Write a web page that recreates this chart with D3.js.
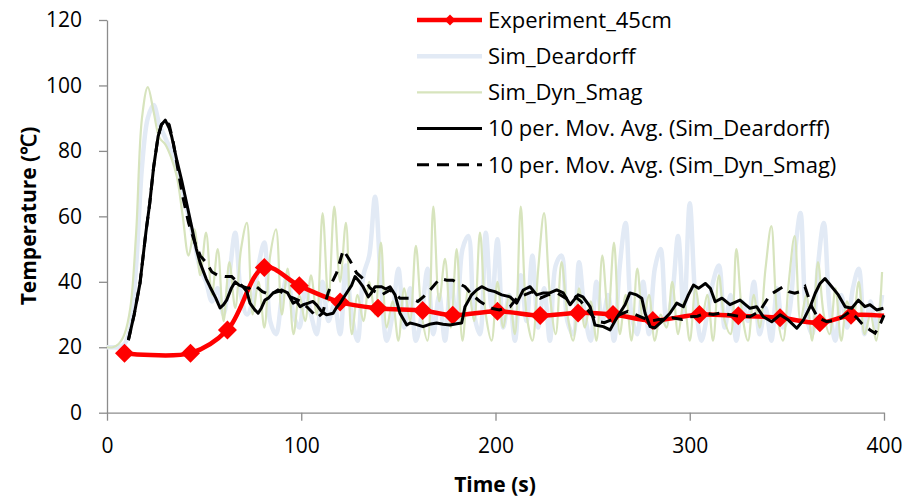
<!DOCTYPE html>
<html>
<head>
<meta charset="utf-8">
<script src="https://cdn.jsdelivr.net/npm/d3@7"></script>
<style>
	body { margin: 0; background: #fff; }
	text { font-family: "Open Sans", sans-serif; fill: #000; }
</style>
</head>
<body>
<div id="chart"></div>
<script>
// Experiment_45cm (red, markers)
const expTime = [9, 43, 62, 81, 99, 120, 139.5, 162.5, 178, 201, 223, 242.5, 260.5, 281, 305, 325, 346.5, 367, 383, 400];
const expTemp = [18.2, 18.2, 25.3, 44.4, 38.8, 33.8, 31.9, 31.2, 29.8, 31, 29.7, 30.5, 30, 28.2, 30, 29.6, 29, 27.5, 29.8, 29.6];

// raw simulation output, one sample every 3 s
const simTime = d3.range(0, 400, 3);
const simDeardorff = [
	20, 20, 20, 21, 26, 45, 75, 90, 94, 88, 84, 80, 75, 68, 60, 52, 44, 40, 34, 38,
	30, 42, 55, 36, 30, 34, 45, 52, 28, 24, 35, 42, 30, 26, 38, 30, 24, 40, 28, 33,
	24, 45, 30, 22, 42, 48, 66, 40, 22, 30, 44, 26, 38, 22, 30, 44, 24, 36, 22, 40,
	28, 50, 54, 30, 24, 55, 32, 53, 26, 36, 22, 42, 28, 48, 26, 38, 22, 45, 48, 28,
	24, 46, 30, 22, 40, 28, 36, 22, 45, 58, 30, 24, 40, 24, 44, 50, 28, 36, 54, 30,
	64, 34, 22, 30, 40, 45, 26, 36, 22, 34, 28, 40, 24, 32, 22, 38, 26, 30, 48, 61,
	30, 24, 45, 58, 32, 22, 36, 26, 38, 44, 24, 34, 26, 36
];
const simDynSmag = [
	20, 20, 21, 24, 32, 55, 90, 99.5, 92, 84, 82, 78, 72, 60, 48, 56, 42, 55, 36, 50,
	28, 46, 32, 50, 58, 30, 40, 26, 48, 56, 30, 44, 24, 36, 28, 42, 30, 61, 34, 63,
	40, 58, 24, 36, 28, 40, 30, 52, 26, 34, 22, 38, 28, 51, 30, 22, 63, 34, 47, 26,
	50, 22, 38, 28, 55, 30, 22, 40, 26, 36, 24, 63, 30, 22, 44, 61, 36, 24, 46, 30,
	22, 38, 26, 34, 22, 48, 30, 52, 24, 36, 22, 44, 28, 36, 22, 30, 26, 40, 24, 34,
	22, 38, 28, 36, 22, 42, 28, 24, 50, 30, 22, 36, 26, 44, 57, 30, 22, 40, 54, 28,
	36, 22, 46, 30, 24, 38, 22, 34, 28, 40, 24, 30, 22, 43
];

// 10 per. moving averages (trendlines)
const maDeardorffTime = [
	11, 14, 17, 20, 22, 24, 26.3, 28, 30, 32, 33.3, 36, 38.4, 41, 43.6, 46, 48, 51, 53, 56,
	58.2, 60, 61.6, 64, 66, 68, 70, 72, 73.6, 76, 77.8, 79.5, 81.3, 83, 85.5, 88, 90, 93, 95.8, 97.5,
	99.4, 101, 103.6, 106, 108, 110.5, 113, 116.4, 118, 120, 123.4, 126, 127.7, 130, 131.8, 134.5, 136, 138, 141.4, 143.5,
	145.7, 148.3, 150.8, 154.3, 156, 159, 162.7, 166, 169.7, 173, 176.6, 180, 182.6, 184.3, 187.7, 190.3, 192.9, 196.3, 199.7, 203.2,
	207.5, 210.9, 214.3, 217.8, 221.2, 224.7, 228, 231.5, 234.9, 238.4, 242.5, 245, 248.7, 251.2, 255.5, 259, 262.4, 266.7, 269.2, 272.7,
	275.3, 277, 279.6, 282, 286.4, 289.8, 293.3, 296.7, 299.3, 301.9, 304.5, 308, 310.6, 313.1, 316.6, 320.7, 325.9, 331, 334.4, 337.9,
	342.2, 346.5, 350.8, 355.1, 358.5, 362, 364.6, 367.1, 369.6, 373.1, 376.5, 380, 383.4, 386.8, 390.2, 392.8, 396.2, 399.7
];
const maDeardorffTemp = [
	22.2, 30, 39.6, 55, 64, 75, 84.4, 88, 89.4, 87, 84.4, 77, 71.1, 64, 56.8, 50, 45.7, 41, 38.5, 35,
	32, 33, 34.4, 38, 40, 39, 38.5, 37, 33.5, 31.5, 30.4, 32, 34.4, 35, 36.6, 37, 37.5, 36.6, 33.5, 34,
	32.4, 33, 33.5, 34, 32.9, 30.9, 29.9, 30.4, 32, 33.5, 36.6, 39, 41.6, 40, 38.5, 35.4, 36.5, 38.5, 38.5, 37.8,
	38.5, 36, 30.4, 26.8, 27.4, 27, 26.3, 27, 27.4, 27, 26.8, 27.2, 27.4, 32.4, 36, 37.5, 38.5, 37.5, 37, 36,
	35.4, 33.5, 37.5, 38.5, 36, 36.6, 36.6, 37.5, 36.6, 33, 36, 35.4, 32.4, 26.8, 26.3, 25.3, 29, 33, 36.6, 36,
	35, 30.4, 26.3, 25.9, 28.3, 30.4, 33.5, 32.4, 36, 39, 38, 39.5, 38, 33.9, 35, 33, 34.4, 31.9, 32.4, 29.3,
	27.8, 29.9, 28.3, 25.8, 28.3, 32.4, 36.5, 39.5, 41, 38.5, 36, 32.4, 31.9, 34.4, 32.4, 33, 31.4, 31.9
];
const maDynSmagTime = [
	11, 14, 17, 20, 22, 24, 26.3, 28, 30, 32, 34, 36.6, 39, 42, 45.3, 48, 51.3, 54, 57, 60.7,
	64.2, 67, 70, 73, 76, 80, 84, 88, 92, 96, 100, 103.5, 106, 108, 111, 113.8, 116, 118.2, 121.6, 125,
	128.5, 132.8, 135.4, 138, 141.4, 145.7, 150.8, 156, 160, 163, 166.3, 171.4, 174.9, 178, 181, 184.3, 188, 192, 197.2, 202,
	207.5, 211, 215, 219, 223, 227, 232, 236, 240, 244, 248, 252, 256, 260, 264, 268, 272, 276, 280, 284,
	288, 291, 296, 300, 304, 308, 312, 316, 320, 325, 331, 336, 341.3, 344, 348, 351, 354, 357, 359.3, 362.8,
	366, 370.5, 375.6, 378, 382.5, 386, 389, 392.8, 395.4, 398, 400
];
const maDynSmagTemp = [
	22.2, 30, 39.6, 55, 64, 75, 84.4, 88, 89.4, 88, 83, 74, 66, 58, 51.8, 48, 45.7, 43, 42, 41.6,
	41.6, 40, 38.5, 38, 39, 37, 36, 37.5, 36, 35, 34, 32, 30.5, 29, 30.4, 36.6, 40, 42.7, 49.7, 46.6,
	42.7, 40.5, 38.1, 37, 36, 37.5, 35, 35, 34, 35.5, 37.5, 41, 40.5, 40.5, 39.5, 38.5, 36, 34, 32, 31.4,
	32.4, 35, 36, 37, 35, 36, 36.5, 35, 36, 34, 31, 28, 27.5, 28.5, 30, 31, 30, 29, 28, 28.5,
	28.5, 29, 28.5, 29.3, 29.5, 30.4, 30, 30.5, 30, 29.5, 29.3, 31, 36, 37, 38.5, 37, 36.5, 37, 38.5, 32.4,
	29, 27.8, 28.3, 29, 30.9, 29, 27, 25.3, 24.3, 27, 29.8
];

const xTicks = [0, 100, 200, 300, 400];
const yTicks = [0, 20, 40, 60, 80, 100, 120];
const legendLabels = [
	'Experiment_45cm',
	'Sim_Deardorff',
	'Sim_Dyn_Smag',
	'10 per. Mov. Avg. (Sim_Deardorff)',
	'10 per. Mov. Avg. (Sim_Dyn_Smag)'
];

const W = 907, H = 497;
const AXIS_COLOR = '#8c8c8c';
const RED = '#ff0000';
const BLUE = '#e2eaf5';
const GREEN = '#d7e4bd';

const x = d3.scaleLinear().domain([0, 400]).range([107, 884]);
const y = d3.scaleLinear().domain([0, 120]).range([412.7, 20]);

const svg = d3.select('#chart')
	.append('svg')
	.attr('width', W)
	.attr('height', H);

// axes
const yAxis = svg.append('g')
	.attr('transform', 'translate(107,0)')
	.call(d3.axisLeft(y).tickValues(yTicks).tickSize(8).tickSizeOuter(0).tickPadding(17));
const xAxis = svg.append('g')
	.attr('transform', 'translate(0,412.7)')
	.call(d3.axisBottom(x).tickValues(xTicks).tickSize(8).tickSizeOuter(0).tickPadding(17));

[yAxis, xAxis].forEach(g => {
	g.select('.domain').attr('stroke', AXIS_COLOR).attr('stroke-width', 1.3);
	g.selectAll('.tick line').attr('stroke', AXIS_COLOR).attr('stroke-width', 1.3);
	g.selectAll('.tick text')
		.attr('fill', '#000')
		.style('font-size', '21px')
		.style('font-family', '"Open Sans", sans-serif');
});

// axis titles
svg.append('text')
	.attr('transform', 'translate(36,216) rotate(-90)')
	.attr('text-anchor', 'middle')
	.style('font-size', '21px')
	.style('font-weight', 'bold')
	.text('Temperature (℃)');
svg.append('text')
	.attr('x', 495)
	.attr('y', 492)
	.attr('text-anchor', 'middle')
	.style('font-size', '21px')
	.style('font-weight', 'bold')
	.text('Time (s)');

const pairs = (ts, vs) => ts.map((t, i) => [t, vs[i]]);

const smooth = d3.line()
	.x(d => x(d[0]))
	.y(d => y(d[1]))
	.curve(d3.curveCatmullRom.alpha(0.5));
const straight = d3.line()
	.x(d => x(d[0]))
	.y(d => y(d[1]));

const plot = svg.append('g').attr('fill', 'none');

// raw simulations (faint)
plot.append('path')
	.attr('d', smooth(pairs(simTime, simDeardorff)))
	.attr('stroke', BLUE)
	.attr('stroke-width', 4.5)
	.attr('stroke-linejoin', 'round');
plot.append('path')
	.attr('d', smooth(pairs(simTime, simDynSmag)))
	.attr('stroke', GREEN)
	.attr('stroke-width', 2.2)
	.attr('stroke-linejoin', 'round');

// experiment
plot.append('path')
	.attr('d', smooth(pairs(expTime, expTemp)))
	.attr('stroke', RED)
	.attr('stroke-width', 4.5);

function diamond(r) {
	return `M0,${-r}L${r},0L0,${r}L${-r},0Z`;
}

svg.append('g')
	.selectAll('path')
	.data(pairs(expTime, expTemp).slice(0, -1))
	.enter()
	.append('path')
	.attr('d', diamond(9.5))
	.attr('transform', d => `translate(${x(d[0])},${y(d[1])})`)
	.attr('fill', RED);

// moving average trendlines
svg.append('path')
	.attr('d', straight(pairs(maDeardorffTime, maDeardorffTemp)))
	.attr('fill', 'none')
	.attr('stroke', '#000')
	.attr('stroke-width', 3)
	.attr('stroke-linejoin', 'round');
svg.append('path')
	.attr('d', straight(pairs(maDynSmagTime, maDynSmagTemp)))
	.attr('fill', 'none')
	.attr('stroke', '#000')
	.attr('stroke-width', 3)
	.attr('stroke-dasharray', '11,8');

// legend
const legendStyles = [
	{ stroke: RED, width: 4.5, dash: null, marker: true },
	{ stroke: BLUE, width: 4.5, dash: null },
	{ stroke: GREEN, width: 2.2, dash: null },
	{ stroke: '#000', width: 3, dash: null },
	{ stroke: '#000', width: 3, dash: '12,8' }
];

const legend = svg.append('g')
	.selectAll('g')
	.data(legendLabels)
	.enter()
	.append('g')
	.attr('transform', (d, i) => `translate(417,${20 + i * 36.2})`);

legend.append('line')
	.attr('x1', 0)
	.attr('x2', 65)
	.attr('stroke', (d, i) => legendStyles[i].stroke)
	.attr('stroke-width', (d, i) => legendStyles[i].width)
	.attr('stroke-dasharray', (d, i) => legendStyles[i].dash);

legend.filter((d, i) => legendStyles[i].marker)
	.append('path')
	.attr('d', diamond(5.5))
	.attr('transform', 'translate(33,0)')
	.attr('fill', RED);

legend.append('text')
	.attr('x', 71)
	.attr('dy', '0.35em')
	.style('font-size', '22px')
	.text(d => d);
</script>
</body>
</html>
